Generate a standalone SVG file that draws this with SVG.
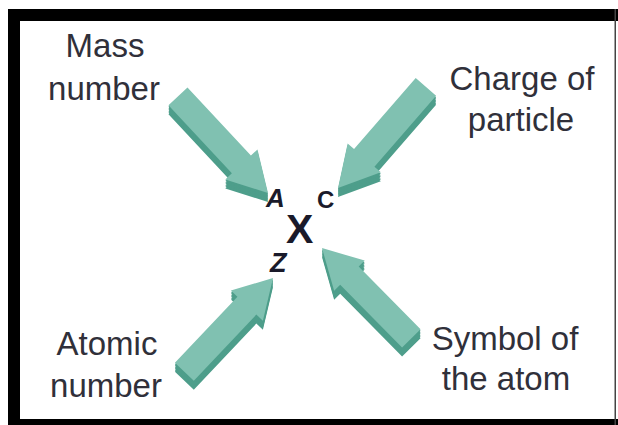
<svg xmlns="http://www.w3.org/2000/svg" xmlns:xlink="http://www.w3.org/1999/xlink" width="618" height="425" viewBox="0 0 618 425">
<style>
.lbl{font-family:"Liberation Sans",Arial,sans-serif;font-size:33px;fill:#30303a;text-anchor:middle}
.sym{font-family:"Liberation Sans",Arial,sans-serif;font-weight:bold;fill:#1a1a2a}
.side{fill:#4e9e8b}
.top{fill:#80c1b1}
</style>
<defs>
<polygon id="s1" points="-132,-13 -39,-13 -39,-22 0,0 -39,22 -39,13 -132,13" transform="translate(268,193) rotate(47)"/>
<polygon id="s2" points="-134,-13.5 -40,-13.5 -40,-22 0,0 -40,22 -40,13.5 -134,13.5" transform="translate(338,188) rotate(131)"/>
<polygon id="s3" points="-129,-13 -38,-13 -38,-22 0,0 -38,22 -38,13 -129,13" transform="translate(273,278) rotate(-46.6)"/>
<polygon id="s4" points="-127,-13 -39,-13 -39,-21.5 0,0 -39,21.5 -39,13 -127,13" transform="translate(322,248) rotate(-134.7)"/>
</defs>
<rect width="618" height="425" fill="#fff"/>
<g id="frame">
<rect x="8" y="9" width="610" height="12" fill="#000"/>
<rect x="8" y="9" width="12" height="416" fill="#000"/>
<rect x="8" y="419" width="610" height="6" fill="#000"/>
<rect x="614.5" y="9" width="1.5" height="416" fill="#444"/>
</g>
<g id="connectors">
<g id="arrow-mass">
<use xlink:href="#s1" class="side" transform="translate(0,9)"/>
<use xlink:href="#s1" class="side" transform="translate(0,7.5)"/>
<use xlink:href="#s1" class="side" transform="translate(0,6)"/>
<use xlink:href="#s1" class="side" transform="translate(0,4.5)"/>
<use xlink:href="#s1" class="side" transform="translate(0,3)"/>
<use xlink:href="#s1" class="side" transform="translate(0,1.5)"/>
<use xlink:href="#s1" class="top"/>
</g>
<g id="arrow-charge">
<use xlink:href="#s2" class="side" transform="translate(0,9)"/>
<use xlink:href="#s2" class="side" transform="translate(0,7.5)"/>
<use xlink:href="#s2" class="side" transform="translate(0,6)"/>
<use xlink:href="#s2" class="side" transform="translate(0,4.5)"/>
<use xlink:href="#s2" class="side" transform="translate(0,3)"/>
<use xlink:href="#s2" class="side" transform="translate(0,1.5)"/>
<use xlink:href="#s2" class="top"/>
</g>
<g id="arrow-atomic">
<use xlink:href="#s3" class="side" transform="translate(0,9)"/>
<use xlink:href="#s3" class="side" transform="translate(0,7.5)"/>
<use xlink:href="#s3" class="side" transform="translate(0,6)"/>
<use xlink:href="#s3" class="side" transform="translate(0,4.5)"/>
<use xlink:href="#s3" class="side" transform="translate(0,3)"/>
<use xlink:href="#s3" class="side" transform="translate(0,1.5)"/>
<use xlink:href="#s3" class="top"/>
</g>
<g id="arrow-symbol">
<use xlink:href="#s4" class="side" transform="translate(0,9)"/>
<use xlink:href="#s4" class="side" transform="translate(0,7.5)"/>
<use xlink:href="#s4" class="side" transform="translate(0,6)"/>
<use xlink:href="#s4" class="side" transform="translate(0,4.5)"/>
<use xlink:href="#s4" class="side" transform="translate(0,3)"/>
<use xlink:href="#s4" class="side" transform="translate(0,1.5)"/>
<use xlink:href="#s4" class="top"/>
</g>
</g>
<g id="mass-number">
<text class="lbl" x="105" y="57">Mass</text>
<text class="lbl" x="104" y="100">number</text>
</g>
<g id="charge-of-particle">
<text class="lbl" x="522" y="90">Charge of</text>
<text class="lbl" x="521" y="131">particle</text>
</g>
<g id="atomic-number">
<text class="lbl" x="107" y="355">Atomic</text>
<text class="lbl" x="106" y="397">number</text>
</g>
<g id="symbol-of-atom">
<text class="lbl" x="505" y="350">Symbol of</text>
<text class="lbl" x="506" y="390">the atom</text>
</g>
<g id="nuclide">
<text class="sym" x="266" y="207" font-size="26" font-style="italic">A</text>
<text class="sym" x="317" y="208" font-size="24">C</text>
<text class="sym" x="286" y="243" font-size="41">X</text>
<text class="sym" x="270" y="272" font-size="27" font-style="italic">Z</text>
</g>
</svg>
